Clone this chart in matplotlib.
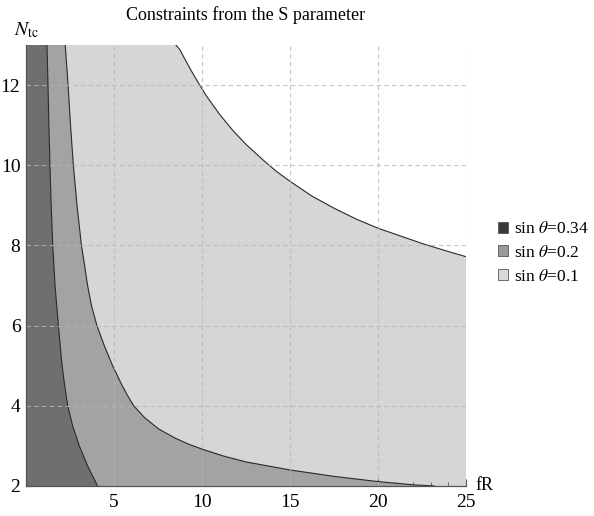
import matplotlib.pyplot as plt
from matplotlib.patches import Patch
from matplotlib.ticker import MultipleLocator

plt.rcParams['font.family'] = 'Liberation Serif'
plt.rcParams['mathtext.fontset'] = 'stix'

# boundary curves
# sin theta = 0.34 : N_tc -> fR
n_a = [13, 12, 11, 10, 9, 8, 7, 6, 5, 4.5, 4, 3.5, 3, 2.5, 2]
fr_a = [1.19, 1.25, 1.30, 1.36, 1.43, 1.52, 1.65, 1.84, 2.05, 2.2, 2.37, 2.65, 3.03, 3.5, 4.07]

# sin theta = 0.2
n_b = [13, 12, 11, 10, 9, 8, 7.5, 7, 6.5, 6, 5.5, 5, 4.5, 4.25, 4.0, 3.7, 3.42, 3.2, 3.05,
       2.92, 2.75, 2.6, 2.4, 2.24, 2.11, 2.03, 2]
fr_b = [2.23, 2.39, 2.53, 2.69, 2.9, 3.15, 3.33, 3.5, 3.72, 4.03, 4.45, 4.92, 5.47, 5.78, 6.12,
        6.75, 7.55, 8.45, 9.2, 10.0, 11.2, 12.5, 15.0, 17.5, 20.0, 22.0, 23.2]

# sin theta = 0.1 : fR -> N_tc
fr_c = [8.52, 8.75, 9.0, 9.4, 9.8, 10.25, 11.0, 11.75, 12.5, 13.5, 14.25, 15.0, 16.25, 17.5,
        18.75, 20.0, 22.5, 23.75, 25.0]
n_c = [13, 12.88, 12.67, 12.35, 12.05, 11.73, 11.27, 10.87, 10.52, 10.12, 9.84, 9.6, 9.23,
       8.93, 8.66, 8.43, 8.05, 7.88, 7.72]

labels = [r'sin $\theta$=0.34', r'sin $\theta$=0.2', r'sin $\theta$=0.1']
fills = ['#6f6f6f', '#a3a3a3', '#d6d6d6']
swatch = ['#3a3a3a', '#9a9a9a', '#d8d8d8']

xmin, xmax, ymin, ymax = 0, 25, 2, 13

fig = plt.figure(figsize=(5.94, 5.16), dpi=100)
ax = fig.add_axes([26 / 594, 1 - 486 / 516, 440 / 594, 441 / 516])

# lightest region: everything below curve C
ax.fill([xmin, xmin] + fr_c + [xmax], [ymin, ymax] + n_c + [ymin],
        color=fills[2], lw=0, zorder=1)
ax.fill([xmin, xmin] + fr_b, [ymin, ymax] + n_b, color=fills[1], lw=0, zorder=2)
ax.fill([xmin, xmin] + fr_a, [ymin, ymax] + n_a, color=fills[0], lw=0, zorder=3)

for xs, ys in [(fr_a, n_a), (fr_b, n_b), (fr_c, n_c)]:
    ax.plot(xs, ys, color='#2a2a2a', lw=0.8, zorder=4, solid_joinstyle='round')

ax.set_xlim(xmin, xmax)
ax.set_ylim(ymin, ymax)

# dashed grid
for gx in [5, 10, 15, 20, 25]:
    ax.axvline(gx, color='#b8b8b8', lw=0.8, ls=(0, (4, 3)), zorder=5, alpha=0.8)
for gy in [4, 6, 8, 10, 12]:
    ax.axhline(gy, color='#b8b8b8', lw=0.8, ls=(0, (4, 3)), zorder=5, alpha=0.8)

ax.spines['top'].set_visible(False)
ax.spines['right'].set_visible(False)
for s in ['left', 'bottom']:
    ax.spines[s].set_color('#555555')
    ax.spines[s].set_linewidth(0.9)
    ax.spines[s].set_zorder(6)

ax.set_xticks([5, 10, 15, 20, 25])
ax.set_yticks([2, 4, 6, 8, 10, 12])
ax.xaxis.set_minor_locator(MultipleLocator(1))
ax.yaxis.set_minor_locator(MultipleLocator(0.5))
ax.tick_params(which='major', direction='in', length=5, width=0.8, color='#555555',
               labelsize=14, pad=6)
ax.tick_params(which='minor', direction='in', length=3, width=0.6, color='#555555')
ax.tick_params(axis='y', pad=4)

ax.set_title('Constraints from the S parameter', fontsize=13, pad=18)
ax.text(0, 1.012, r'$N_{\mathrm{tc}}$', transform=ax.transAxes, ha='center',
        va='bottom', fontsize=14)
ax.annotate('fR', xy=(1, 0), xycoords='axes fraction', xytext=(7, 0),
            textcoords='offset points', ha='left', va='center', fontsize=13)

handles = [Patch(facecolor=c, edgecolor='#555555', lw=0.6) for c in swatch]
fig.legend(handles, labels, loc='center left', bbox_to_anchor=(498 / 594, 1 - 253 / 516),
           frameon=False, fontsize=12.5, handlelength=0.6, handleheight=0.6,
           handletextpad=0.35, labelspacing=0.45, borderpad=0, borderaxespad=0)

fig.savefig('out.png', dpi=100)
